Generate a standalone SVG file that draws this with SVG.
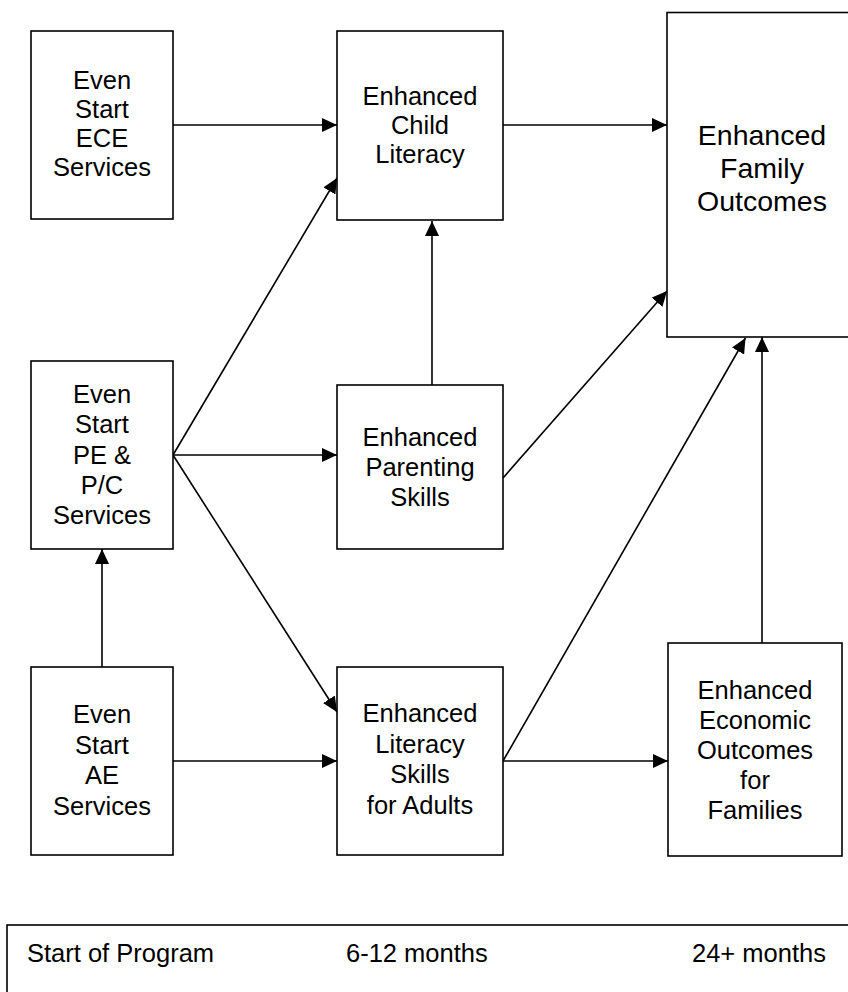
<svg xmlns="http://www.w3.org/2000/svg" width="848" height="992" viewBox="0 0 848 992">
<style>
.box{fill:#fff;stroke:#000;stroke-width:1.6}
.t{font-family:"Liberation Sans",Arial,Helvetica,sans-serif;font-size:25.5px;fill:#000;text-anchor:middle}
.tb{font-family:"Liberation Sans",Arial,Helvetica,sans-serif;font-size:28.5px;fill:#000;text-anchor:middle}
.tl{font-family:"Liberation Sans",Arial,Helvetica,sans-serif;font-size:25.5px;fill:#000}
.c{stroke:#000;stroke-width:1.6;fill:none;marker-end:url(#ah)}
</style>
<defs>
<marker id="ah" markerUnits="userSpaceOnUse" markerWidth="15" markerHeight="14" refX="15" refY="7" orient="auto">
<path d="M0,0 L15,7 L0,14 Z" fill="#000"/>
</marker>
</defs>
<rect width="848" height="992" fill="#fff"/>
<g id="connectors">
<line class="c" x1="173" y1="125" x2="337" y2="125"/>
<line class="c" x1="503" y1="125" x2="667" y2="125"/>
<line class="c" x1="173" y1="455" x2="337" y2="178"/>
<line class="c" x1="173" y1="455" x2="337" y2="455"/>
<line class="c" x1="173" y1="455" x2="337" y2="712"/>
<line class="c" x1="432" y1="385" x2="432" y2="221"/>
<line class="c" x1="503" y1="478" x2="667" y2="291"/>
<line class="c" x1="102" y1="667" x2="102" y2="549"/>
<line class="c" x1="173" y1="761" x2="337" y2="761"/>
<line class="c" x1="503" y1="761" x2="745.5" y2="338"/>
<line class="c" x1="503" y1="761" x2="668" y2="761"/>
<line class="c" x1="762" y1="643" x2="762" y2="337"/>
</g>
<g id="ece">
<rect class="box" x="31" y="31" width="142" height="188"/>
<text class="t" x="102" y="89">Even</text>
<text class="t" x="102" y="118">Start</text>
<text class="t" x="102" y="147">ECE</text>
<text class="t" x="102" y="176">Services</text>
</g>
<g id="child">
<rect class="box" x="337" y="31" width="166" height="189"/>
<text class="t" x="420" y="105">Enhanced</text>
<text class="t" x="420" y="134">Child</text>
<text class="t" x="420" y="163">Literacy</text>
</g>
<g id="family">
<rect class="box" x="667" y="12.5" width="190" height="324.5"/>
<text class="tb" x="762" y="145">Enhanced</text>
<text class="tb" x="762" y="178">Family</text>
<text class="tb" x="762" y="211">Outcomes</text>
</g>
<g id="pe">
<rect class="box" x="31" y="361" width="142" height="188"/>
<text class="t" x="102" y="403">Even</text>
<text class="t" x="102" y="433">Start</text>
<text class="t" x="102" y="463.5">PE &amp;</text>
<text class="t" x="102" y="494">P/C</text>
<text class="t" x="102" y="524">Services</text>
</g>
<g id="parenting">
<rect class="box" x="337" y="385" width="166" height="164"/>
<text class="t" x="420" y="446">Enhanced</text>
<text class="t" x="420" y="476">Parenting</text>
<text class="t" x="420" y="506">Skills</text>
</g>
<g id="ae">
<rect class="box" x="31" y="667" width="142" height="188"/>
<text class="t" x="102" y="723">Even</text>
<text class="t" x="102" y="753.5">Start</text>
<text class="t" x="102" y="784">AE</text>
<text class="t" x="102" y="814.5">Services</text>
</g>
<g id="adults">
<rect class="box" x="337" y="667" width="166" height="188"/>
<text class="t" x="420" y="722">Enhanced</text>
<text class="t" x="420" y="752.5">Literacy</text>
<text class="t" x="420" y="783">Skills</text>
<text class="t" x="420" y="813.5">for Adults</text>
</g>
<g id="economic">
<rect class="box" x="668" y="643" width="174" height="213"/>
<text class="t" x="755" y="698.5">Enhanced</text>
<text class="t" x="755" y="728.5">Economic</text>
<text class="t" x="755" y="758.5">Outcomes</text>
<text class="t" x="755" y="788.5">for</text>
<text class="t" x="755" y="818.5">Families</text>
</g>
<g id="timeline">
<rect class="box" x="7" y="925" width="850" height="80"/>
<text class="tl" x="27" y="962">Start of Program</text>
<text class="tl" x="346" y="962">6-12 months</text>
<text class="tl" x="692" y="962">24+ months</text>
</g>
</svg>
